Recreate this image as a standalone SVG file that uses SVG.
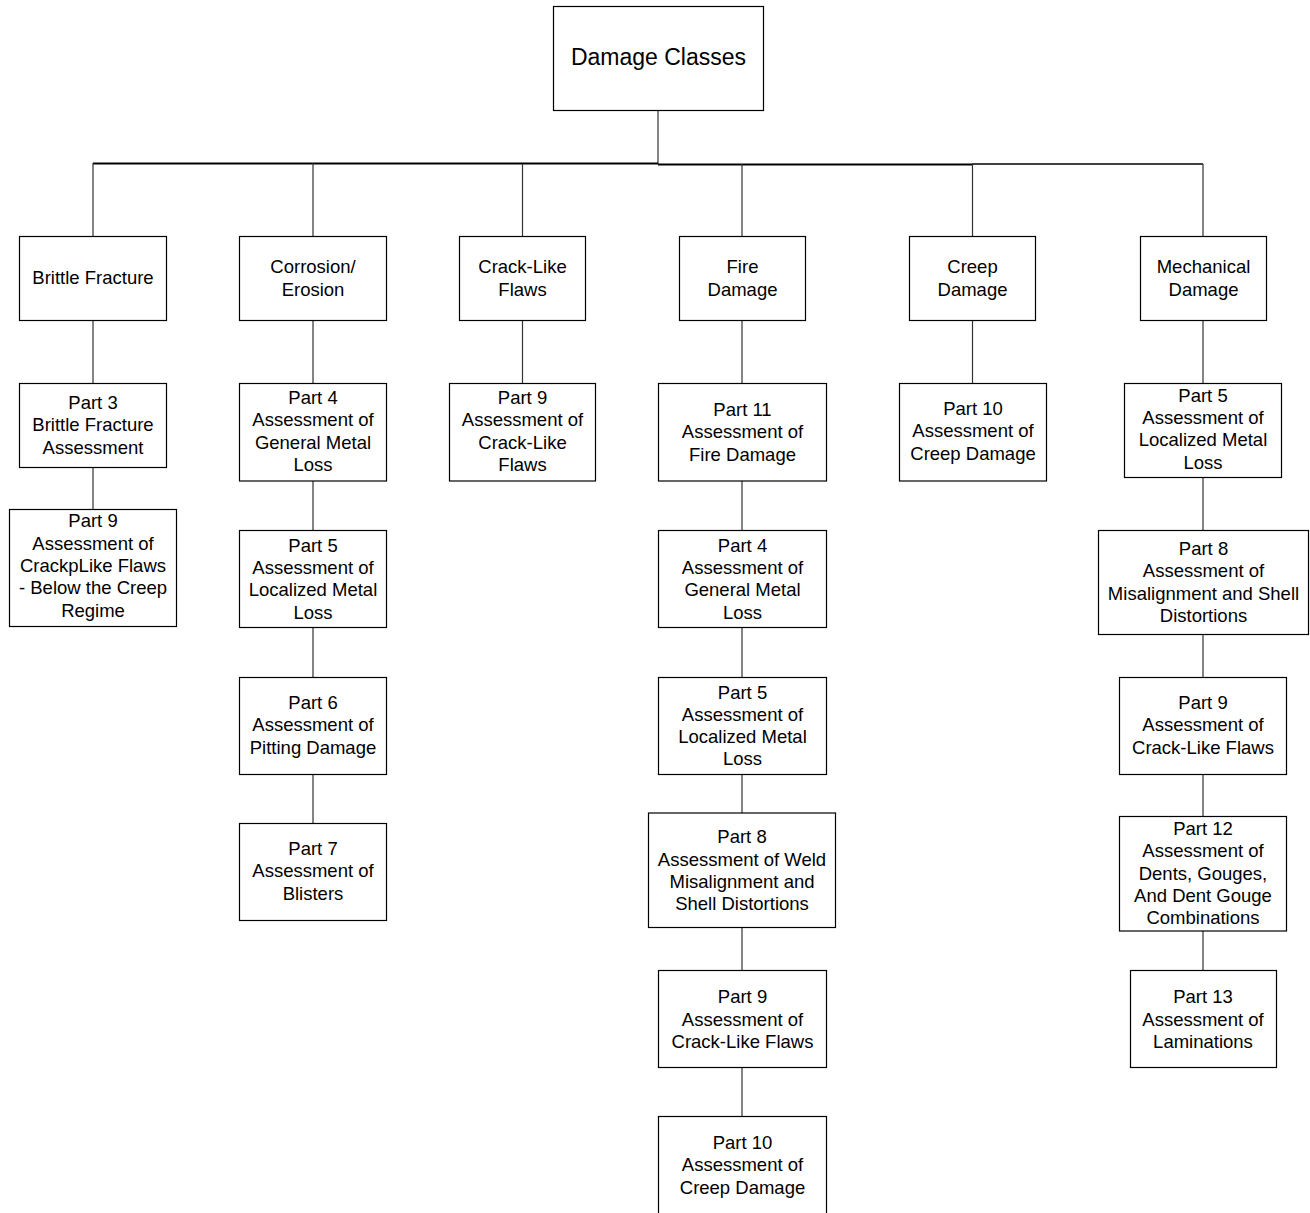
<svg xmlns="http://www.w3.org/2000/svg" width="1310" height="1213" viewBox="0 0 1310 1213">
<style>
.b{fill:#fff;stroke:#000;stroke-width:1.2}
.t{font-family:"Liberation Sans",Arial,sans-serif;font-size:18.5px;fill:#000;text-anchor:middle}
.c{fill:none;stroke:#333;stroke-width:1.2}
.bar{fill:none;stroke:#000;stroke-width:2}
</style>
<rect width="1310" height="1213" fill="#fff"/>
<g id="connectors">
<path class="c" d="M658 110.5V164"/>
<path class="bar" d="M93 163.5H658"/>
<path class="bar" d="M658 164.5H972"/>
<path class="c" d="M972 164H1203" style="stroke:#000;stroke-width:1.4"/>
<path class="c" d="M93 163V236.5M313 163V236.5M522.5 164V236.5M742 164V236.5M972.5 164V236.5M1203 164V236.5"/>
<path class="c" d="M93 320.5V383.5M93 467.5V509.5"/>
<path class="c" d="M313 320.5V383.5M313 481V530M313 627.5V677M313 774V823"/>
<path class="c" d="M522.5 320.5V383.5"/>
<path class="c" d="M742 320.5V383.5M742 481V530M742 627.5V677M742 774V813M742 927.5V970M742 1067V1116"/>
<path class="c" d="M972.5 320.5V383.5"/>
<path class="c" d="M1203 320.5V383.5M1203 477V530M1203 634V677M1203 774V816M1203 931V970"/>
</g>
<g id="root">
<rect class="b" x="553.5" y="6.5" width="210" height="104"/>
<text class="t" x="658.5" y="65" style="font-size:23px">Damage Classes</text>
</g>
<g id="brittle">
<rect class="b" x="19.5" y="236.5" width="147" height="84"/>
<text class="t" x="93" y="284">Brittle Fracture</text>
</g>
<g id="corrosion">
<rect class="b" x="239.5" y="236.5" width="147" height="84"/>
<text class="t" x="313" y="273.3">Corrosion/</text>
<text class="t" x="313" y="295.6">Erosion</text>
</g>
<g id="cracklike">
<rect class="b" x="459.5" y="236.5" width="126" height="84"/>
<text class="t" x="522.5" y="273.3">Crack-Like</text>
<text class="t" x="522.5" y="295.6">Flaws</text>
</g>
<g id="fire">
<rect class="b" x="679.5" y="236.5" width="126" height="84"/>
<text class="t" x="742.5" y="273.3">Fire</text>
<text class="t" x="742.5" y="295.6">Damage</text>
</g>
<g id="creep">
<rect class="b" x="909.5" y="236.5" width="126" height="84"/>
<text class="t" x="972.5" y="273.3">Creep</text>
<text class="t" x="972.5" y="295.6">Damage</text>
</g>
<g id="mechanical">
<rect class="b" x="1140.5" y="236.5" width="126" height="84"/>
<text class="t" x="1203.5" y="273.3">Mechanical</text>
<text class="t" x="1203.5" y="295.6">Damage</text>
</g>
<g id="b-part3">
<rect class="b" x="19.5" y="383.5" width="147" height="84"/>
<text class="t" x="93" y="409">Part 3</text>
<text class="t" x="93" y="431.3">Brittle Fracture</text>
<text class="t" x="93" y="453.6">Assessment</text>
</g>
<g id="b-part9">
<rect class="b" x="9.5" y="509.5" width="167" height="117"/>
<text class="t" x="93" y="527.3">Part 9</text>
<text class="t" x="93" y="549.6">Assessment of</text>
<text class="t" x="93" y="571.9">CrackpLike Flaws</text>
<text class="t" x="93" y="594.2">- Below the Creep</text>
<text class="t" x="93" y="616.5">Regime</text>
</g>
<g id="c-part4">
<rect class="b" x="239.5" y="383.5" width="147" height="97.5"/>
<text class="t" x="313" y="404">Part 4</text>
<text class="t" x="313" y="426.3">Assessment of</text>
<text class="t" x="313" y="448.6">General Metal</text>
<text class="t" x="313" y="470.9">Loss</text>
</g>
<g id="c-part5">
<rect class="b" x="239.5" y="530.5" width="147" height="97"/>
<text class="t" x="313" y="551.7">Part 5</text>
<text class="t" x="313" y="574">Assessment of</text>
<text class="t" x="313" y="596.3">Localized Metal</text>
<text class="t" x="313" y="618.6">Loss</text>
</g>
<g id="c-part6">
<rect class="b" x="239.5" y="677.5" width="147" height="97"/>
<text class="t" x="313" y="709">Part 6</text>
<text class="t" x="313" y="731.3">Assessment of</text>
<text class="t" x="313" y="753.6">Pitting Damage</text>
</g>
<g id="c-part7">
<rect class="b" x="239.5" y="823.5" width="147" height="97"/>
<text class="t" x="313" y="855">Part 7</text>
<text class="t" x="313" y="877.3">Assessment of</text>
<text class="t" x="313" y="899.6">Blisters</text>
</g>
<g id="k-part9">
<rect class="b" x="449.5" y="383.5" width="146" height="97.5"/>
<text class="t" x="522.5" y="404">Part 9</text>
<text class="t" x="522.5" y="426.3">Assessment of</text>
<text class="t" x="522.5" y="448.6">Crack-Like</text>
<text class="t" x="522.5" y="470.9">Flaws</text>
</g>
<g id="f-part11">
<rect class="b" x="658.5" y="383.5" width="168" height="97.5"/>
<text class="t" x="742.5" y="416">Part 11</text>
<text class="t" x="742.5" y="438.3">Assessment of</text>
<text class="t" x="742.5" y="460.6">Fire Damage</text>
</g>
<g id="f-part4">
<rect class="b" x="658.5" y="530.5" width="168" height="97"/>
<text class="t" x="742.5" y="551.7">Part 4</text>
<text class="t" x="742.5" y="574">Assessment of</text>
<text class="t" x="742.5" y="596.3">General Metal</text>
<text class="t" x="742.5" y="618.6">Loss</text>
</g>
<g id="f-part5">
<rect class="b" x="658.5" y="677.5" width="168" height="97"/>
<text class="t" x="742.5" y="698.5">Part 5</text>
<text class="t" x="742.5" y="720.8">Assessment of</text>
<text class="t" x="742.5" y="743.1">Localized Metal</text>
<text class="t" x="742.5" y="765.4">Loss</text>
</g>
<g id="f-part8">
<rect class="b" x="648.5" y="813" width="187" height="114.5"/>
<text class="t" x="742" y="843.3">Part 8</text>
<text class="t" x="742" y="865.6">Assessment of Weld</text>
<text class="t" x="742" y="887.9">Misalignment and</text>
<text class="t" x="742" y="910.2">Shell Distortions</text>
</g>
<g id="f-part9">
<rect class="b" x="658.5" y="970.5" width="168" height="97"/>
<text class="t" x="742.5" y="1003.2">Part 9</text>
<text class="t" x="742.5" y="1025.5">Assessment of</text>
<text class="t" x="742.5" y="1047.8">Crack-Like Flaws</text>
</g>
<g id="f-part10">
<rect class="b" x="658.5" y="1116.5" width="168" height="100"/>
<text class="t" x="742.5" y="1149">Part 10</text>
<text class="t" x="742.5" y="1171.3">Assessment of</text>
<text class="t" x="742.5" y="1193.6">Creep Damage</text>
</g>
<g id="r-part10">
<rect class="b" x="899.5" y="383.5" width="147" height="97.5"/>
<text class="t" x="973" y="415">Part 10</text>
<text class="t" x="973" y="437.3">Assessment of</text>
<text class="t" x="973" y="459.6">Creep Damage</text>
</g>
<g id="m-part5">
<rect class="b" x="1124.5" y="383.5" width="157" height="94"/>
<text class="t" x="1203" y="401.7">Part 5</text>
<text class="t" x="1203" y="424">Assessment of</text>
<text class="t" x="1203" y="446.3">Localized Metal</text>
<text class="t" x="1203" y="468.6">Loss</text>
</g>
<g id="m-part8">
<rect class="b" x="1098.5" y="530.5" width="210" height="104"/>
<text class="t" x="1203.5" y="555">Part 8</text>
<text class="t" x="1203.5" y="577.3">Assessment of</text>
<text class="t" x="1203.5" y="599.6">Misalignment and Shell</text>
<text class="t" x="1203.5" y="621.9">Distortions</text>
</g>
<g id="m-part9">
<rect class="b" x="1119.5" y="677.5" width="167" height="97"/>
<text class="t" x="1203" y="709">Part 9</text>
<text class="t" x="1203" y="731.3">Assessment of</text>
<text class="t" x="1203" y="753.6">Crack-Like Flaws</text>
</g>
<g id="m-part12">
<rect class="b" x="1119.5" y="816.5" width="167" height="114.5"/>
<text class="t" x="1203" y="835">Part 12</text>
<text class="t" x="1203" y="857.3">Assessment of</text>
<text class="t" x="1203" y="879.6">Dents, Gouges,</text>
<text class="t" x="1203" y="901.9">And Dent Gouge</text>
<text class="t" x="1203" y="924.2">Combinations</text>
</g>
<g id="m-part13">
<rect class="b" x="1130.5" y="970.5" width="146" height="97"/>
<text class="t" x="1203" y="1003.3">Part 13</text>
<text class="t" x="1203" y="1025.6">Assessment of</text>
<text class="t" x="1203" y="1047.9">Laminations</text>
</g>
</svg>
